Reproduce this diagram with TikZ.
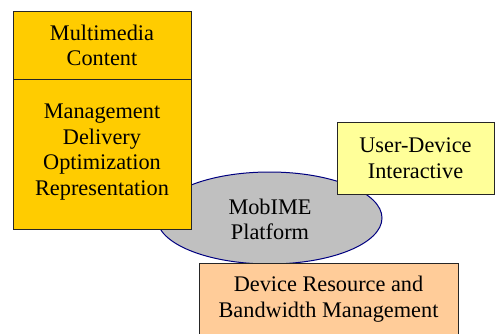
\documentclass[tikz,border=0pt]{standalone}
\usepackage{fontspec}
\setmainfont{Liberation Serif}
\usetikzlibrary{shapes.geometric}
\definecolor{gold}{HTML}{FFCC00}
\definecolor{paleyel}{HTML}{FFFF99}
\definecolor{peach}{HTML}{FFCC99}
\definecolor{ellgray}{HTML}{C0C0C0}
\definecolor{navy}{HTML}{000080}
\tikzset{
  box/.style={draw=black!85, line width=1pt, rectangle, inner sep=0pt, align=center,
    font=\fontsize{22.3}{25.5}\selectfont},
  txt/.style={align=center, inner sep=0pt, font=\fontsize{22.3}{25.5}\selectfont}
}
\begin{document}
\begin{tikzpicture}[x=1pt,y=1pt]
\useasboundingbox (0,0) rectangle (495,333);
\clip (0,0) rectangle (495,333);
% ellipse
\node[ellipse, draw=navy, fill=ellgray, line width=1pt, minimum width=225pt, minimum height=92pt, inner sep=0pt] (plat) at (269.5,115) {};
\node[txt] (plattxt) at (270,113.5) {MobIME\\Platform};
% gold box
\node[box, fill=gold, minimum width=178pt, minimum height=67pt] (mm) at (102,287.5) {Multimedia\\Content};
\node[box, fill=gold, minimum width=178pt, minimum height=150pt] (mg) at (102,179) {};
\node[txt] (mgtxt) at (102,181) {Management\\Delivery\\Optimization\\Representation};
% user-device box
\node[box, fill=paleyel, minimum width=157pt, minimum height=72pt] (ud) at (415.5,175) {User-Device\\Interactive};
% device box
\node[box, fill=peach, minimum width=259pt, minimum height=80pt] (dr) at (328.5,30) {};
\node[txt] (drtxt) at (328.5,34) {Device Resource and\\Bandwidth Management};
\end{tikzpicture}
\end{document}
